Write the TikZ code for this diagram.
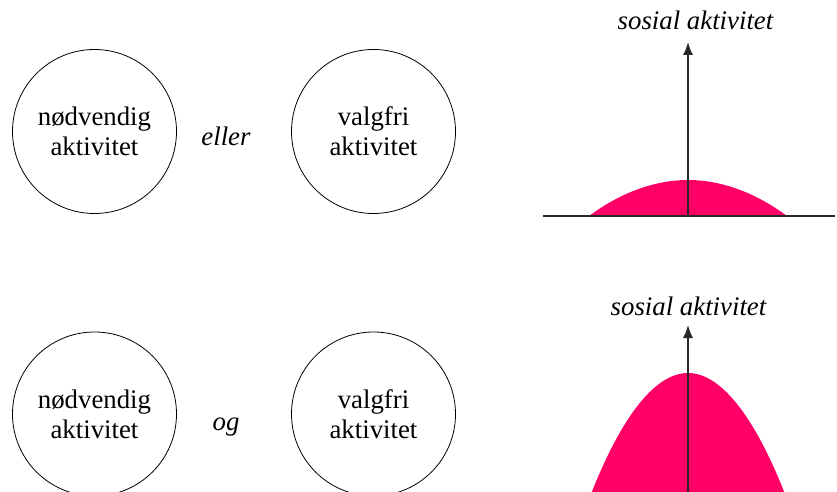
\documentclass[tikz,border=0pt]{standalone}
\usepackage{fontspec}
\setmainfont{Liberation Serif}
\newfontfamily\actserif{Liberation Serif}
\usetikzlibrary{arrows.meta}
\definecolor{humpred}{RGB}{255,0,102}
\definecolor{axisgray}{RGB}{40,40,40}
\def\actfont{\actserif\fontsize{26.8}{30}\selectfont}
\tikzset{
    act/.style={draw,circle,minimum size=164pt,inner sep=0pt,align=center,line width=0.8pt},
    conj/.style={font=\actfont\itshape,anchor=base},
    axlabel/.style={font=\actfont\itshape,anchor=base},
    hump/.style={fill=humpred},
    axis/.style={draw=axisgray,line width=1.4pt},
}

\begin{document}
\begin{tikzpicture}[x=1pt,y=-1pt,font=\actfont,>={Latex[length=13pt,width=10pt]}]
    \useasboundingbox (0,0) rectangle (837,492);
    \clip (0,0) rectangle (837,492);

    % top row: eller
    \begin{scope}
        \node[act] (n1) at (94.5,131.5) {nødvendig\\aktivitet};
        \node[act] (v1) at (373.5,131.5) {valgfri\\aktivitet};
        \node[conj] (eller) at (226,145) {eller};
        \coordinate (o1) at (688,216);
        \coordinate (top1) at (688,42);
        \coordinate (l1) at (543,216);
        \coordinate (r1) at (835,216);
        \fill[hump] (589,216) parabola bend (688,180) (787,216) -- cycle;
        \draw[axis,->] (o1) -- (top1);
        \draw[axis] (l1) -- (r1);
        \node[axlabel] (s1) at (695.5,30) {sosial aktivitet};
    \end{scope}

    % bottom row: og
    \begin{scope}
        \node[act] (n2) at (94.5,414) {nødvendig\\aktivitet};
        \node[act] (v2) at (373.5,414) {valgfri\\aktivitet};
        \node[conj] (og) at (226,430) {og};
        \coordinate (o2) at (688,499);
        \coordinate (top2) at (688,325);
        \fill[hump] (589,499) parabola bend (688,373) (787,499) -- cycle;
        \draw[axis,->] (o2) -- (top2);
        \node[axlabel] (s2) at (688.5,315) {sosial aktivitet};
    \end{scope}
\end{tikzpicture}
\end{document}
